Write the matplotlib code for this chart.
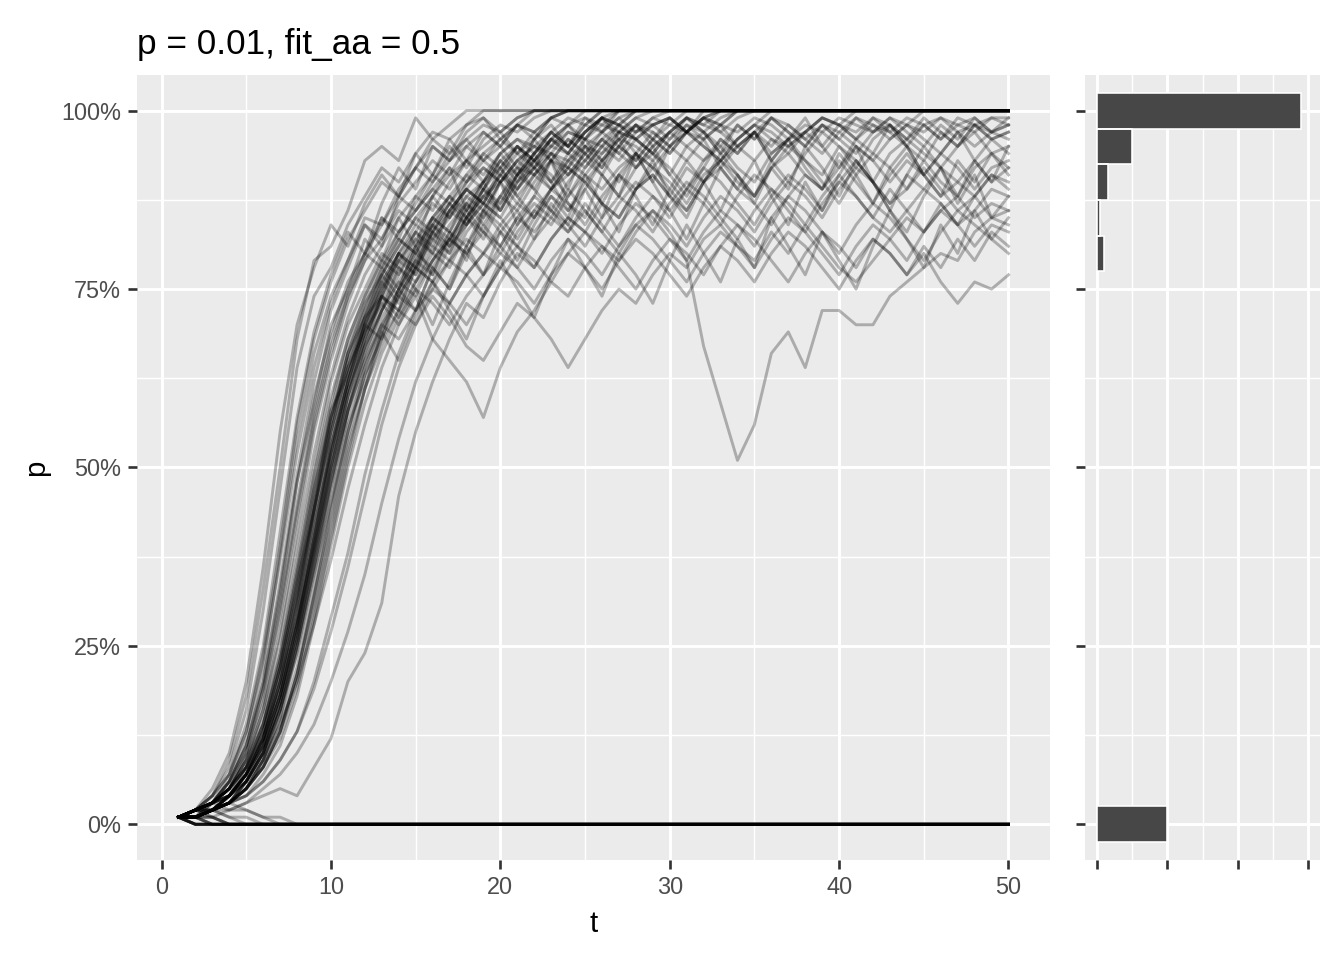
import matplotlib.pyplot as plt
from matplotlib.ticker import MultipleLocator, FixedLocator

plt.rcParams['font.family'] = ['Liberation Sans', 'DejaVu Sans']

# --- data (p in %, one value per generation t = 1..50) ---
t_steps = list(range(1, 51))

# runs that were lost: values up to the first 0, stay at 0 afterwards
lost_runs = [
    [1, 0], [1, 0], [1, 0], [1, 0], [1, 0], [1, 0], [1, 0], [1, 0],
    [1, 1, 0], [1, 1, 0], [1, 1, 0], [1, 1, 0],
    [1, 1, 1, 0], [1, 1, 1, 0],
    [1, 2, 1, 0], [1, 2, 1, 0],
    [1, 2, 2, 1, 0],
    [1, 1, 2, 1, 1, 0],
    [1, 2, 3, 2, 2, 1, 0],
    [1, 2, 2, 3, 2, 1, 1, 0],
]

# runs that fixed: values up to the first 100, stay at 100 afterwards
fixed_runs = [
    [1, 2, 4, 9, 18, 33, 50, 68, 79, 81, 86, 93, 95, 93, 99, 96, 98, 100],
    [1, 2, 4, 8, 16, 30, 47, 64, 74, 78, 84, 88, 92, 90, 94, 97, 96, 98, 99, 97, 99, 100],
    [1, 2, 3, 6, 12, 22, 38, 54, 66, 74, 79, 85, 84, 89, 92, 90, 94, 96, 93, 95, 98, 97, 99, 100],
    [1, 1, 3, 5, 10, 19, 32, 48, 60, 69, 76, 80, 85, 83, 87, 91, 89, 93, 95, 97, 94, 96, 99, 98, 100],
    [1, 2, 3, 5, 9, 16, 27, 41, 55, 65, 73, 79, 82, 86, 84, 88, 91, 93, 90, 94, 96, 95, 97, 99, 98, 100],
    [1, 1, 2, 4, 8, 14, 24, 37, 50, 62, 70, 75, 80, 78, 83, 87, 85, 89, 92, 90, 93, 95, 94, 97, 96, 98, 100],
    [1, 2, 3, 5, 8, 13, 22, 34, 47, 58, 67, 73, 77, 82, 80, 85, 88, 86, 90, 93, 91, 94, 96, 95, 98, 97, 99, 100],
    [1, 1, 2, 3, 6, 11, 19, 30, 43, 55, 64, 71, 76, 80, 83, 81, 86, 89, 87, 91, 94, 92, 95, 97, 96, 99, 100],
    [1, 2, 2, 4, 7, 12, 20, 31, 44, 56, 66, 72, 78, 75, 81, 85, 83, 88, 90, 92, 89, 93, 95, 94, 97, 99, 98, 100],
    [1, 1, 2, 4, 7, 13, 22, 33, 46, 57, 65, 71, 74, 79, 82, 80, 84, 87, 85, 90,
     92, 91, 94, 93, 96, 95, 98, 97, 99, 100],
    [1, 2, 3, 4, 7, 11, 18, 28, 40, 52, 62, 69, 75, 79, 77, 82, 85, 88, 86, 90,
     93, 91, 89, 93, 95, 94, 97, 96, 98, 99, 97, 100],
    [1, 1, 2, 3, 5, 9, 15, 24, 35, 47, 58, 66, 72, 77, 81, 84, 82, 86, 89, 87,
     91, 93, 90, 94, 92, 95, 97, 96, 94, 97, 99, 98, 100],
    [1, 1, 2, 3, 5, 8, 13, 21, 32, 44, 55, 64, 70, 75, 79, 83, 81, 85, 88, 90,
     87, 91, 93, 92, 95, 93, 96, 98, 97, 95, 97, 99, 98, 100],
    [1, 2, 2, 3, 5, 8, 12, 19, 29, 40, 51, 61, 68, 74, 78, 76, 81, 84, 87, 85,
     89, 92, 90, 93, 91, 94, 96, 95, 93, 96, 98, 97, 99, 100],
    [1, 1, 2, 2, 3, 5, 7, 10, 14, 20, 27, 35, 45, 54, 62, 68, 73, 77, 80, 78,
     83, 86, 84, 88, 91, 89, 92, 94, 92, 95, 97, 95, 93, 96, 98, 100],
    [1, 1, 2, 3, 4, 6, 9, 13, 19, 27, 36, 46, 56, 64, 70, 75, 79, 82, 80, 84,
     87, 85, 89, 92, 90, 93, 95, 93, 96, 98, 97, 99, 100],
    [1, 2, 3, 4, 6, 9, 14, 20, 28, 37, 47, 56, 64, 70, 75, 79, 83, 81, 85, 88,
     86, 90, 93, 91, 94, 96, 94, 97, 99, 98, 100],
    [1, 2, 4, 7, 13, 24, 39, 56, 68, 76, 82, 86, 90, 88, 92, 95, 93, 96, 98, 97, 99, 100],
    [1, 2, 3, 7, 13, 23, 37, 52, 64, 73, 79, 84, 82, 87, 90, 93, 91, 95, 97, 95, 98, 96, 99, 100],
    [1, 2, 3, 5, 8, 14, 23, 35, 48, 59, 68, 74, 79, 83, 86, 89, 87, 91, 94, 92,
     95, 93, 96, 98, 96, 99, 97, 99, 100],
    [1, 1, 2, 4, 7, 12, 21, 32, 45, 57, 66, 73, 78, 82, 80, 85, 88, 91, 89, 93,
     95, 93, 96, 94, 97, 99, 98, 100],
    [1, 2, 3, 6, 11, 19, 31, 45, 58, 68, 75, 80, 78, 83, 86, 89, 92, 90, 94, 96, 94, 97, 99, 100],
    [1, 2, 4, 7, 14, 25, 41, 57, 69, 77, 83, 80, 87, 92, 89, 95, 93, 97, 99, 96, 98, 100],
    [1, 1, 3, 6, 11, 20, 34, 49, 62, 72, 78, 84, 81, 88, 92, 96, 94, 98, 100],
    [1, 2, 3, 5, 10, 17, 29, 43, 56, 66, 74, 79, 85, 82, 88, 91, 95, 92, 96, 98, 97, 99, 100],
    [1, 1, 2, 4, 7, 12, 20, 31, 44, 55, 64, 70, 76, 73, 79, 84, 81, 87, 90, 86,
     91, 94, 97, 95, 98, 100],
    [1, 2, 3, 4, 6, 10, 16, 25, 36, 48, 58, 67, 74, 80, 77, 83, 87, 84, 89, 93,
     90, 94, 97, 95, 99, 97, 100],
    [1, 1, 2, 3, 5, 8, 13, 20, 30, 41, 52, 61, 69, 75, 72, 78, 82, 86, 83, 88,
     92, 89, 93, 96, 94, 91, 95, 98, 96, 99, 97, 99, 100],
    [1, 2, 3, 5, 8, 13, 21, 32, 44, 55, 65, 72, 77, 81, 85, 88, 85, 90, 93, 91,
     95, 92, 96, 94, 97, 99, 98, 96, 98, 99, 97, 99, 98, 100],
    [1, 1, 2, 3, 6, 10, 17, 26, 38, 50, 60, 68, 74, 79, 83, 80, 86, 89, 87, 92,
     95, 93, 96, 98, 95, 97, 99, 97, 98, 96, 99, 98, 97, 99, 100],
    [1, 2, 3, 4, 7, 11, 18, 28, 39, 51, 61, 68, 74, 72, 78, 83, 80, 85, 89, 86,
     90, 93, 91, 88, 92, 95, 93, 96, 94, 91, 95, 97, 94, 96, 98, 96, 95, 97, 99, 98,
     100],
    [1, 1, 2, 4, 7, 12, 19, 29, 41, 53, 62, 70, 75, 80, 78, 84, 87, 85, 89, 92,
     88, 91, 94, 92, 96, 93, 90, 94, 97, 95, 93, 96, 98, 95, 97, 94, 96, 98, 97, 99,
     98, 97, 99, 98, 100],
]

# runs still segregating at t = 50
open_runs = [
    [1, 1, 2, 3, 6, 10, 17, 27, 39, 51,
     61, 69, 74, 72, 78, 82, 80, 85, 88, 86,
     90, 92, 89, 91, 94, 92, 95, 93, 96, 94,
     97, 95, 93, 96, 98, 97, 95, 97, 99, 98,
     96, 98, 97, 99, 98, 96, 98, 99, 97, 98],
    [1, 1, 2, 4, 7, 12, 20, 31, 43, 54,
     63, 70, 75, 80, 78, 83, 86, 84, 88, 91,
     89, 92, 94, 91, 93, 96, 94, 92, 95, 97,
     95, 93, 96, 94, 97, 95, 98, 96, 94, 97,
     95, 93, 96, 98, 96, 94, 97, 95, 97, 96],
    [1, 2, 3, 5, 9, 15, 24, 36, 49, 60,
     68, 74, 79, 77, 82, 85, 83, 87, 84, 88,
     91, 89, 86, 90, 93, 91, 88, 92, 94, 92,
     89, 93, 95, 92, 90, 94, 96, 93, 91, 95,
     93, 90, 94, 96, 94, 92, 95, 97, 94, 95],
    [1, 1, 2, 3, 5, 9, 15, 25, 37, 49,
     60, 68, 73, 78, 76, 81, 79, 84, 87, 85,
     82, 86, 89, 87, 84, 88, 91, 89, 92, 90,
     87, 91, 93, 90, 88, 92, 94, 91, 89, 92,
     95, 93, 90, 93, 91, 94, 92, 89, 92, 93],
    [1, 2, 3, 4, 7, 12, 19, 29, 41, 53,
     62, 69, 74, 71, 76, 80, 78, 83, 86, 84,
     81, 85, 88, 86, 90, 87, 85, 89, 91, 88,
     86, 90, 92, 89, 87, 84, 88, 91, 89, 93,
     90, 87, 91, 94, 91, 88, 90, 93, 90, 92],
    [1, 1, 2, 3, 6, 10, 16, 26, 37, 48,
     58, 65, 71, 75, 79, 77, 82, 85, 83, 80,
     84, 87, 85, 89, 86, 83, 87, 90, 88, 85,
     89, 92, 90, 87, 84, 88, 91, 89, 86, 90,
     93, 90, 87, 89, 92, 89, 86, 88, 91, 90],
    [1, 2, 2, 4, 6, 10, 17, 26, 38, 50,
     59, 66, 72, 76, 74, 79, 82, 80, 77, 81,
     85, 83, 86, 84, 81, 85, 88, 86, 83, 87,
     90, 88, 85, 82, 86, 89, 87, 84, 88, 91,
     88, 85, 83, 86, 89, 87, 84, 86, 89, 88],
    [1, 1, 2, 3, 5, 8, 13, 21, 32, 43,
     54, 63, 69, 74, 78, 76, 73, 77, 80, 83,
     81, 78, 82, 85, 83, 80, 84, 87, 85, 82,
     79, 83, 86, 84, 81, 85, 88, 86, 83, 80,
     84, 87, 85, 82, 79, 83, 86, 84, 82, 85],
    [1, 1, 2, 3, 4, 7, 11, 18, 28, 39,
     50, 59, 66, 71, 75, 73, 70, 74, 77, 80,
     78, 75, 79, 82, 80, 77, 81, 84, 82, 79,
     76, 80, 83, 81, 78, 82, 85, 83, 80, 77,
     81, 84, 82, 79, 83, 86, 84, 81, 84, 83],
    [1, 2, 3, 4, 7, 11, 18, 27, 38, 49,
     58, 65, 70, 68, 72, 75, 73, 70, 74, 78,
     76, 73, 77, 80, 78, 75, 79, 82, 80, 77,
     74, 78, 81, 79, 76, 80, 83, 81, 78, 75,
     79, 82, 80, 77, 81, 78, 82, 79, 83, 81],
    [1, 1, 2, 3, 5, 8, 13, 21, 31, 42,
     53, 61, 67, 72, 76, 79, 82, 80, 84, 81,
     78, 82, 85, 83, 86, 83, 80, 84, 86, 83,
     79, 67, 59, 51, 56, 66, 69, 64, 72, 72,
     70, 70, 74, 76, 78, 80, 79, 83, 85, 84],
    [1, 2, 3, 5, 8, 14, 23, 35, 47, 57,
     64, 69, 73, 70, 74, 68, 65, 62, 57, 64,
     69, 72, 76, 74, 78, 81, 79, 83, 86, 84,
     81, 85, 88, 86, 83, 87, 90, 88, 85, 89,
     92, 90, 87, 91, 89, 92, 90, 88, 91, 89],
    [1, 1, 2, 3, 5, 9, 14, 22, 33, 45,
     55, 63, 68, 72, 70, 74, 71, 67, 65, 69,
     73, 71, 68, 64, 68, 72, 75, 73, 77, 80,
     78, 82, 84, 81, 79, 83, 80, 84, 81, 78,
     76, 79, 82, 85, 83, 86, 88, 85, 87, 86],
    [1, 2, 2, 4, 6, 10, 16, 25, 36, 47,
     57, 64, 70, 74, 72, 76, 79, 77, 74, 78,
     81, 79, 76, 80, 83, 81, 78, 75, 79, 82,
     80, 77, 81, 84, 82, 79, 76, 80, 83, 81,
     78, 82, 80, 77, 80, 76, 73, 76, 75, 77],
    [1, 1, 1, 2, 3, 4, 5, 4, 8, 12,
     20, 24, 31, 46, 55, 62, 68, 73, 71, 76,
     80, 78, 82, 85, 83, 87, 85, 89, 91, 88,
     92, 90, 93, 95, 93, 96, 94, 97, 95, 98,
     96, 99, 97, 95, 98, 96, 99, 98, 97, 99],
    [1, 1, 3, 5, 9, 16, 26, 39, 52, 63,
     71, 77, 81, 85, 88, 86, 90, 93, 91, 94,
     96, 94, 97, 95, 93, 96, 98, 96, 94, 97,
     99, 97, 95, 98, 96, 99, 97, 95, 98, 96,
     94, 97, 99, 97, 95, 98, 96, 99, 97, 98],
    [1, 1, 2, 4, 6, 11, 18, 28, 40, 52,
     62, 70, 76, 80, 84, 82, 86, 89, 87, 91,
     88, 85, 89, 92, 90, 87, 91, 94, 92, 89,
     86, 90, 93, 91, 88, 92, 95, 93, 90, 87,
     91, 94, 92, 89, 93, 90, 88, 92, 94, 91],
    [1, 2, 3, 4, 7, 11, 18, 28, 39, 50,
     60, 67, 72, 76, 80, 78, 75, 80, 83, 81,
     85, 88, 86, 83, 87, 84, 81, 85, 88, 86,
     89, 87, 84, 88, 91, 89, 86, 83, 87, 90,
     88, 85, 89, 86, 83, 87, 84, 88, 85, 86],
    [1, 2, 3, 6, 10, 18, 30, 44, 57, 67,
     74, 80, 84, 88, 86, 90, 93, 95, 93, 96,
     98, 97, 95, 98, 99, 98, 97, 99, 98, 99,
     97, 96, 98, 97, 99, 98, 96, 97, 99, 98,
     97, 99, 98, 96, 98, 99, 97, 98, 99, 99],
    [1, 1, 2, 3, 6, 10, 17, 27, 40, 53,
     63, 71, 77, 81, 85, 83, 87, 90, 92, 90,
     93, 95, 93, 96, 94, 97, 95, 98, 96, 94,
     97, 99, 97, 95, 97, 99, 98, 96, 98, 97,
     99, 98, 96, 98, 97, 99, 98, 97, 99, 98],
    [1, 2, 3, 5, 9, 14, 22, 33, 45, 56,
     66, 71, 77, 74, 80, 84, 88, 85, 82, 87,
     91, 94, 90, 86, 89, 93, 96, 92, 95, 91,
     88, 92, 96, 94, 97, 93, 90, 94, 97, 95,
     92, 96, 98, 95, 91, 94, 97, 93, 96, 94],
    [1, 1, 2, 4, 8, 13, 22, 34, 44, 58,
     63, 70, 68, 75, 81, 77, 83, 79, 86, 90,
     84, 88, 93, 87, 85, 91, 88, 94, 90, 86,
     82, 87, 92, 89, 93, 88, 84, 90, 86, 91,
     95, 90, 86, 83, 88, 92, 87, 91, 85, 88],
    [1, 2, 3, 6, 11, 20, 33, 48, 59, 70,
     75, 82, 79, 85, 81, 88, 92, 86, 90, 94,
     91, 96, 93, 89, 95, 92, 97, 94, 90, 95,
     98, 96, 92, 95, 97, 93, 96, 99, 95, 92,
     96, 94, 98, 95, 93, 97, 95, 98, 96, 97],
    [1, 1, 2, 3, 5, 9, 16, 24, 35, 45,
     56, 62, 69, 65, 71, 76, 72, 68, 74, 79,
     75, 71, 77, 82, 78, 74, 80, 77, 73, 79,
     84, 80, 76, 82, 78, 85, 81, 77, 83, 79,
     75, 81, 86, 82, 78, 84, 80, 86, 82, 80],
    [1, 2, 3, 5, 8, 12, 20, 29, 42, 52,
     61, 67, 72, 78, 75, 70, 76, 81, 86, 83,
     79, 84, 88, 85, 91, 87, 83, 89, 93, 88,
     85, 90, 94, 91, 87, 92, 89, 95, 92, 88,
     93, 90, 86, 91, 95, 92, 88, 93, 90, 95],
    [1, 2, 5, 10, 20, 36, 55, 70, 78, 84,
     81, 87, 91, 88, 94, 91, 96, 93, 97, 95,
     92, 96, 98, 95, 97, 99, 96, 98, 95, 97,
     99, 97, 94, 98, 96, 99, 97, 95, 98, 96,
     99, 97, 98, 96, 99, 97, 95, 98, 96, 97],
    [1, 1, 2, 3, 4, 6, 9, 13, 20, 29,
     38, 49, 58, 66, 72, 78, 75, 81, 77, 83,
     86, 82, 87, 84, 89, 85, 91, 88, 84, 89,
     93, 90, 86, 91, 88, 93, 96, 92, 89, 94,
     91, 87, 92, 95, 91, 88, 93, 90, 94, 92],
]

# marginal histogram of p
hist_p = [0, 80, 85, 90, 95, 100]
hist_count = [20, 2, 1, 3, 10, 58]

# --- figure ---
PANEL = '#EBEBEB'
fig = plt.figure(figsize=(7, 5), dpi=192)
ax = fig.add_axes([137 / 1344, 100 / 960, 913 / 1344, 785 / 960])
axh = fig.add_axes([1085 / 1344, 100 / 960, 235 / 1344, 785 / 960])


def gg_axes(a):
    a.set_facecolor(PANEL)
    for s in a.spines.values():
        s.set_visible(False)
    a.grid(which='major', color='white', linewidth=1.1)
    a.grid(which='minor', color='white', linewidth=0.55)
    a.set_axisbelow(True)
    a.tick_params(which='major', length=3.5, width=1.0, color='#333333',
                  labelsize=8.8, labelcolor='#4D4D4D', pad=2.5)
    a.tick_params(which='minor', length=0)


def full(run, fill):
    return run + [fill] * (len(t_steps) - len(run))


for run in lost_runs:
    ax.plot(t_steps, full(run, 0), color='black', alpha=0.27, lw=1.1)
for run in fixed_runs:
    ax.plot(t_steps, full(run, 100), color='black', alpha=0.27, lw=1.1)
for run in open_runs:
    ax.plot(t_steps, run, color='black', alpha=0.27, lw=1.1)

gg_axes(ax)
ax.set_xlim(-1.45, 52.45)
ax.set_ylim(-5, 105)
ax.xaxis.set_major_locator(MultipleLocator(10))
ax.xaxis.set_minor_locator(MultipleLocator(5))
ax.yaxis.set_major_locator(FixedLocator([0, 25, 50, 75, 100]))
ax.yaxis.set_minor_locator(FixedLocator([12.5, 37.5, 62.5, 87.5]))
ax.set_yticklabels(['0%', '25%', '50%', '75%', '100%'])
ax.set_xlabel('t', fontsize=11, labelpad=4)
ax.set_ylabel('p', fontsize=11, labelpad=4)
ax.set_title('p = 0.01, fit_aa = 0.5', fontsize=13.2, loc='left', pad=8)

# white outline as its own pass, so thin bars keep their dark fill
axh.barh(hist_p, hist_count, height=5, color='#474747', edgecolor='none')
axh.barh(hist_p, hist_count, height=5, fill=False, edgecolor='white', linewidth=0.6)
gg_axes(axh)
axh.set_xlim(-3.4, 63.4)
axh.set_ylim(-5, 105)
axh.xaxis.set_major_locator(FixedLocator([0, 20, 40, 60]))
axh.xaxis.set_minor_locator(FixedLocator([10, 30, 50]))
axh.yaxis.set_major_locator(FixedLocator([0, 25, 50, 75, 100]))
axh.yaxis.set_minor_locator(FixedLocator([12.5, 37.5, 62.5, 87.5]))
axh.set_xticklabels([])
axh.set_yticklabels([])

fig.savefig('out.png', dpi=192)
